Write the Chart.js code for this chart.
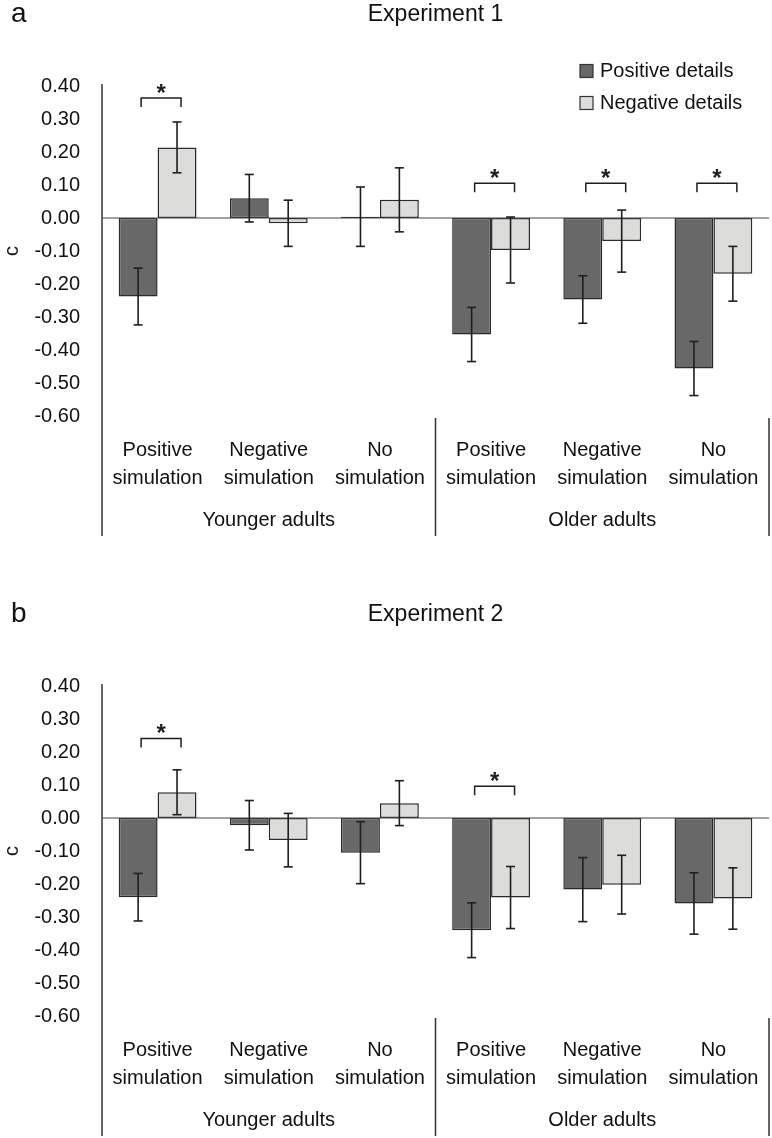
<!DOCTYPE html>
<html>
<head>
<meta charset="utf-8">
<script src="https://cdn.jsdelivr.net/npm/chart.js@4.4.1/dist/chart.umd.min.js"></script>
<style>
  html, body { margin: 0; padding: 0; background: #fff; }
  .panel { position: absolute; left: 0; width: 772px; height: 538px; }
</style>
</head>
<body>
<div class="panel" style="top:0"><canvas id="exp1" width="772" height="538"></canvas></div>
<div class="panel" style="top:600px"><canvas id="exp2" width="772" height="538"></canvas></div>
<script>
// categories and groups
const categories = [
    ['Positive', 'simulation'], ['Negative', 'simulation'], ['No', 'simulation'],
    ['Positive', 'simulation'], ['Negative', 'simulation'], ['No', 'simulation']
];
const groups = ['Younger adults', 'Older adults'];
const seriesNames = ['Positive details', 'Negative details'];
const yMin = -0.6;
const yMax = 0.4;
const yStep = 0.1;

// Experiment 1
const exp1Positive = [-0.238, 0.060, 0.004, -0.353, -0.247, -0.456];
const exp1Negative = [0.214, -0.016, 0.055, -0.097, -0.070, -0.169];
const exp1PositiveErr = [0.086, 0.072, 0.090, 0.082, 0.072, 0.082];
const exp1NegativeErr = [0.077, 0.070, 0.097, 0.100, 0.094, 0.083];
const exp1Sig = [0.364, null, null, 0.105, 0.105, 0.105];

// Experiment 2
const exp2Positive = [-0.240, -0.022, -0.105, -0.340, -0.217, -0.259];
const exp2Negative = [0.078, -0.067, 0.045, -0.241, -0.202, -0.244];
const exp2PositiveErr = [0.072, 0.075, 0.094, 0.083, 0.097, 0.093];
const exp2NegativeErr = [0.068, 0.081, 0.068, 0.094, 0.089, 0.093];
const exp2Sig = [0.241, null, null, 0.096, null, null];

const FONT = "'Liberation Sans', Arial, sans-serif";
const darkFill = '#686868';
const lightFill = '#dcdcda';
const ink = '#1e1e1e';

const line = (ctx, x1, y1, x2, y2) => {
    ctx.beginPath();
    ctx.moveTo(x1, y1);
    ctx.lineTo(x2, y2);
    ctx.stroke();
};

// draws error bars, brackets, axis lines, group labels, legend, title
const decor = {
    id: 'decor',
    afterDatasetsDraw(chart, args, opts) {
        const { ctx, chartArea: area, scales: { x, y } } = chart;
        const H = chart.height;
        ctx.save();
        ctx.strokeStyle = ink;
        ctx.fillStyle = ink;

        // zero line
        ctx.lineWidth = 1.2;
        ctx.strokeStyle = '#444';
        const y0 = y.getPixelForValue(0);
        line(ctx, area.left, y0, area.right, y0);

        // error bars
        ctx.strokeStyle = ink;
        ctx.lineWidth = 1.6;
        chart.data.datasets.forEach((ds, di) => {
            chart.getDatasetMeta(di).data.forEach((bar, i) => {
                const v = ds.data[i], e = opts.errors[di][i];
                const t = y.getPixelForValue(v + e), b = y.getPixelForValue(v - e);
                line(ctx, bar.x, t, bar.x, b);
                line(ctx, bar.x - 4.5, t, bar.x + 4.5, t);
                line(ctx, bar.x - 4.5, b, bar.x + 4.5, b);
            });
        });

        // significance brackets
        ctx.lineWidth = 1.5;
        ctx.font = 'bold 24px ' + FONT;
        ctx.textAlign = 'center';
        ctx.textBaseline = 'alphabetic';
        opts.sig.forEach((s, i) => {
            if (s === null) return;
            const b0 = chart.getDatasetMeta(0).data[i];
            const b1 = chart.getDatasetMeta(1).data[i];
            const xa = b0.x + 3, xb = b1.x + 4;
            const yb = y.getPixelForValue(s);
            ctx.beginPath();
            ctx.moveTo(xa, yb + 9);
            ctx.lineTo(xa, yb);
            ctx.lineTo(xb, yb);
            ctx.lineTo(xb, yb + 9);
            ctx.stroke();
            ctx.fillText('*', (xa + xb) / 2, yb + 3);
        });

        // left axis line and group separators
        ctx.strokeStyle = '#333';
        ctx.lineWidth = 1.5;
        line(ctx, area.left, area.top - 2, area.left, H - 2);
        const n = chart.data.labels.length;
        const per = n / groups.length;
        const step = (area.right - area.left) / n;
        groups.forEach((g, gi) => {
            const xr = area.left + step * per * (gi + 1);
            const xl = area.left + step * per * gi;
            line(ctx, xr, area.bottom + 2, xr, H - 2);
            ctx.font = '20px ' + FONT;
            ctx.textBaseline = 'middle';
            ctx.fillStyle = '#111';
            ctx.fillText(g, (xl + xr) / 2, area.bottom + 104);
        });

        // panel letter and title
        ctx.textAlign = 'left';
        ctx.textBaseline = 'alphabetic';
        ctx.font = '28px ' + FONT;
        ctx.fillText(opts.letter, 11, 22);
        ctx.textAlign = 'center';
        ctx.font = '23px ' + FONT;
        ctx.fillText(opts.title, (area.left + area.right) / 2, 21);

        // legend
        if (opts.legend) {
            ctx.textAlign = 'left';
            ctx.textBaseline = 'middle';
            ctx.font = '20px ' + FONT;
            chart.data.datasets.forEach((ds, di) => {
                const cy = 71 + di * 32;
                ctx.fillStyle = ds.backgroundColor;
                ctx.fillRect(580, cy - 6.5, 13, 13);
                ctx.strokeStyle = '#333';
                ctx.lineWidth = 1.2;
                ctx.strokeRect(580, cy - 6.5, 13, 13);
                ctx.fillStyle = '#111';
                ctx.fillText(ds.label, 600, cy);
            });
        }
        ctx.restore();
    }
};

function makeChart(id, pos, neg, posErr, negErr, sig, letter, title, legend) {
    return new Chart(document.getElementById(id), {
        type: 'bar',
        data: {
            labels: categories,
            datasets: [
                { label: seriesNames[0], data: pos, backgroundColor: darkFill },
                { label: seriesNames[1], data: neg, backgroundColor: lightFill }
            ].map(d => Object.assign(d, {
                borderColor: '#2a2a2a',
                borderWidth: 1.5,
                borderSkipped: false,
                categoryPercentage: 0.7,
                barPercentage: 1.0
            }))
        },
        options: {
            responsive: false,
            animation: false,
            layout: { padding: { top: 86, right: 3, left: 0, bottom: 0 } },
            scales: {
                x: {
                    grid: { display: false, drawTicks: false },
                    border: { display: false },
                    ticks: {
                        color: '#111',
                        font: { family: FONT, size: 20, lineHeight: 1.4 },
                        padding: 20,
                        autoSkip: false,
                        maxRotation: 0
                    },
                    afterFit: s => {
                        s.height = 122;
                        s.paddingLeft = 0;
                        s.paddingRight = 0;
                    }
                },
                y: {
                    min: yMin,
                    max: yMax,
                    grid: { display: false, drawTicks: false },
                    border: { display: false },
                    ticks: {
                        stepSize: yStep,
                        color: '#111',
                        font: { family: FONT, size: 20 },
                        padding: 22,
                        callback: v => (Math.abs(v) < 1e-9 ? 0 : v).toFixed(2)
                    },
                    title: {
                        display: true,
                        text: 'c',
                        color: '#111',
                        font: { family: FONT, size: 20 },
                        padding: 0
                    },
                    afterFit: s => { s.width = 102; }
                }
            },
            plugins: {
                legend: { display: false },
                tooltip: { enabled: false },
                decor: {
                    letter, title, legend, sig,
                    errors: [posErr, negErr]
                }
            }
        },
        plugins: [decor]
    });
}

makeChart('exp1', exp1Positive, exp1Negative, exp1PositiveErr, exp1NegativeErr, exp1Sig, 'a', 'Experiment 1', true);
makeChart('exp2', exp2Positive, exp2Negative, exp2PositiveErr, exp2NegativeErr, exp2Sig, 'b', 'Experiment 2', false);
</script>
</body>
</html>
